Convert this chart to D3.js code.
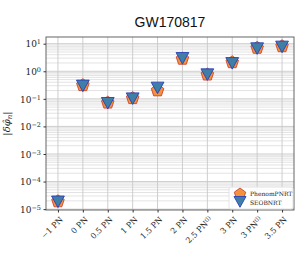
<!DOCTYPE html>
<html lang="en">
<head>
<meta charset="UTF-8">
<title>GW170817</title>
<script src="https://cdnjs.cloudflare.com/ajax/libs/d3/7.8.5/d3.min.js"></script>
<style>
    body { margin: 0; background: #fff; }
    svg { display: block; }
</style>
</head>
<body>
<svg id="chart" width="299" height="256"></svg>
<script>
    // data
    const categories = ["\u22121 PN", "0 PN", "0.5 PN", "1 PN", "1.5 PN", "2 PN", "2.5 PN(l)", "3 PN", "3 PN(l)", "3.5 PN"];
    const phenomValues = [1.9e-5, 0.31, 0.072, 0.105, 0.2, 2.8, 0.75, 2.1, 7.0, 8.0];
    const seobValues   = [2.0e-5, 0.32, 0.075, 0.11, 0.27, 3.2, 0.82, 2.1, 7.2, 8.3];
    const yTicks = [1e-5, 1e-4, 1e-3, 1e-2, 1e-1, 1e0, 1e1];

    const svg = d3.select("#chart");
    const margin = {left: 46, right: 5, top: 37, bottom: 46};
    const W = 299, H = 256;

    const x = d3.scalePoint()
        .domain(categories)
        .range([margin.left, W - margin.right])
        .padding(0.48);

    const y = d3.scaleLog()
        .domain([9.3e-6, 17.5])
        .range([H - margin.bottom, margin.top]);

    // minor grid
    const minor = [];
    for (let e = -6; e <= 1; e++) {
        for (let k = 2; k <= 9; k++) {
            const v = k * Math.pow(10, e);
            if (v > y.domain()[0] && v < y.domain()[1]) minor.push(v);
        }
    }
    svg.append("g").selectAll("line").data(minor).enter().append("line")
        .attr("x1", margin.left).attr("x2", W - margin.right)
        .attr("y1", d => y(d)).attr("y2", d => y(d))
        .attr("stroke", "#e0e0e0").attr("stroke-width", 0.9);

    svg.append("g").selectAll("line").data(yTicks).enter().append("line")
        .attr("x1", margin.left).attr("x2", W - margin.right)
        .attr("y1", d => y(d)).attr("y2", d => y(d))
        .attr("stroke", "#c8c8c8").attr("stroke-width", 0.9);

    svg.append("g").selectAll("line").data(categories).enter().append("line")
        .attr("x1", d => x(d)).attr("x2", d => x(d))
        .attr("y1", margin.top).attr("y2", H - margin.bottom)
        .attr("stroke", "#c8c8c8").attr("stroke-width", 0.9);

    // frame
    svg.append("rect")
        .attr("x", margin.left).attr("y", margin.top)
        .attr("width", W - margin.left - margin.right)
        .attr("height", H - margin.top - margin.bottom)
        .attr("fill", "none").attr("stroke", "#555").attr("stroke-width", 0.9);

    // y axis
    const yAxis = svg.append("g")
        .attr("transform", `translate(${margin.left},0)`)
        .call(d3.axisLeft(y).tickValues(yTicks).tickSize(2.5).tickFormat(() => ""));
    yAxis.select(".domain").remove();
    yAxis.selectAll(".tick line").attr("stroke", "#333");
    yAxis.selectAll(".tick").each(function(d) {
        const t = d3.select(this).append("text")
            .attr("x", -5).attr("dy", "0.35em")
            .attr("text-anchor", "end")
            .attr("fill", "#222")
            .style("font-family", "'DejaVu Serif', serif")
            .style("font-size", "9px");
        t.append("tspan").text("10");
        t.append("tspan").attr("dy", "-0.45em").style("font-size", "6.5px")
            .text(String(Math.round(Math.log10(d))).replace("-", "\u2212"));
    });

    // x axis
    const xAxis = svg.append("g")
        .attr("transform", `translate(0,${H - margin.bottom})`)
        .call(d3.axisBottom(x).tickSize(2.5).tickFormat(() => ""));
    xAxis.select(".domain").remove();
    xAxis.selectAll(".tick line").attr("stroke", "#333");
    xAxis.selectAll(".tick").each(function(d) {
        const g = d3.select(this).append("g").attr("transform", "translate(3,8) rotate(-45)");
        const t = g.append("text")
            .attr("text-anchor", "end")
            .attr("dy", "0.35em")
            .attr("fill", "#222")
            .style("font-family", "'DejaVu Serif', serif")
            .style("font-size", "8px");
        const m = d.match(/^(.*)\((l)\)$/);
        if (m) {
            t.append("tspan").text(m[1]);
            t.append("tspan").attr("dy", "-0.45em").style("font-size", "5.5px").text("(l)");
        } else {
            t.text(d);
        }
    });

    // markers
    function pentPath(r) {
        const pts = d3.range(5).map(i => {
            const a = -Math.PI / 2 + i * 2 * Math.PI / 5;
            return [r * Math.cos(a), r * Math.sin(a)];
        });
        return "M" + pts.map(p => p.join(",")).join("L") + "Z";
    }
    function triPath(r) {
        return `M${-r},${-r * 0.75}L${r},${-r * 0.75}L0,${r * 1.05}Z`;
    }

    svg.append("g").selectAll("path").data(phenomValues).enter().append("path")
        .attr("d", pentPath(6.6))
        .attr("transform", (d, i) => `translate(${x(categories[i])},${y(d)})`)
        .attr("fill", "#f7903a").attr("stroke", "#c0392b").attr("stroke-width", 0.8);

    svg.append("g").selectAll("path").data(seobValues).enter().append("path")
        .attr("d", triPath(6.4))
        .attr("transform", (d, i) => `translate(${x(categories[i])},${y(d)})`)
        .attr("fill", "#3f7ea6").attr("stroke", "#2a3fb8").attr("stroke-width", 0.9);

    // y label
    svg.append("text")
        .attr("transform", `translate(10,${(margin.top + H - margin.bottom) / 2}) rotate(-90)`)
        .attr("text-anchor", "middle")
        .style("font-family", "'DejaVu Serif', serif")
        .style("font-size", "10px")
        .style("font-style", "italic")
        .attr("fill", "#222")
        .html("|δ<tspan>φ\u0302</tspan><tspan dy='2' font-size='7px'>n</tspan><tspan dy='-2'>|</tspan>");

    // title
    svg.append("text")
        .attr("x", (margin.left + W - margin.right) / 2)
        .attr("y", 27)
        .attr("text-anchor", "middle")
        .style("font-family", "'Liberation Sans', Arial, sans-serif")
        .style("font-size", "14px")
        .attr("fill", "#111")
        .text("GW170817");

    // legend
    const lg = svg.append("g").attr("transform", "translate(229,187)");
    lg.append("rect").attr("width", 64).attr("height", 22).attr("rx", 2)
        .attr("fill", "rgba(255,255,255,0.85)").attr("stroke", "#ddd").attr("stroke-width", 0.8);
    lg.append("path").attr("d", pentPath(6)).attr("transform", "translate(11,7)")
        .attr("fill", "#f7903a").attr("stroke", "#c0392b").attr("stroke-width", 0.8);
    lg.append("path").attr("d", triPath(6)).attr("transform", "translate(11,14)")
        .attr("fill", "#3f7ea6").attr("stroke", "#2a3fb8").attr("stroke-width", 0.9);
    lg.selectAll("text.l").data(["PhenomPNRT", "SEOBNRT"]).enter().append("text")
        .attr("x", 21).attr("y", (d, i) => 7 + i * 9).attr("dy", "0.35em")
        .style("font-family", "'DejaVu Serif', serif")
        .style("font-size", "6px")
        .attr("fill", "#222")
        .text(d => d);
</script>
</body>
</html>
